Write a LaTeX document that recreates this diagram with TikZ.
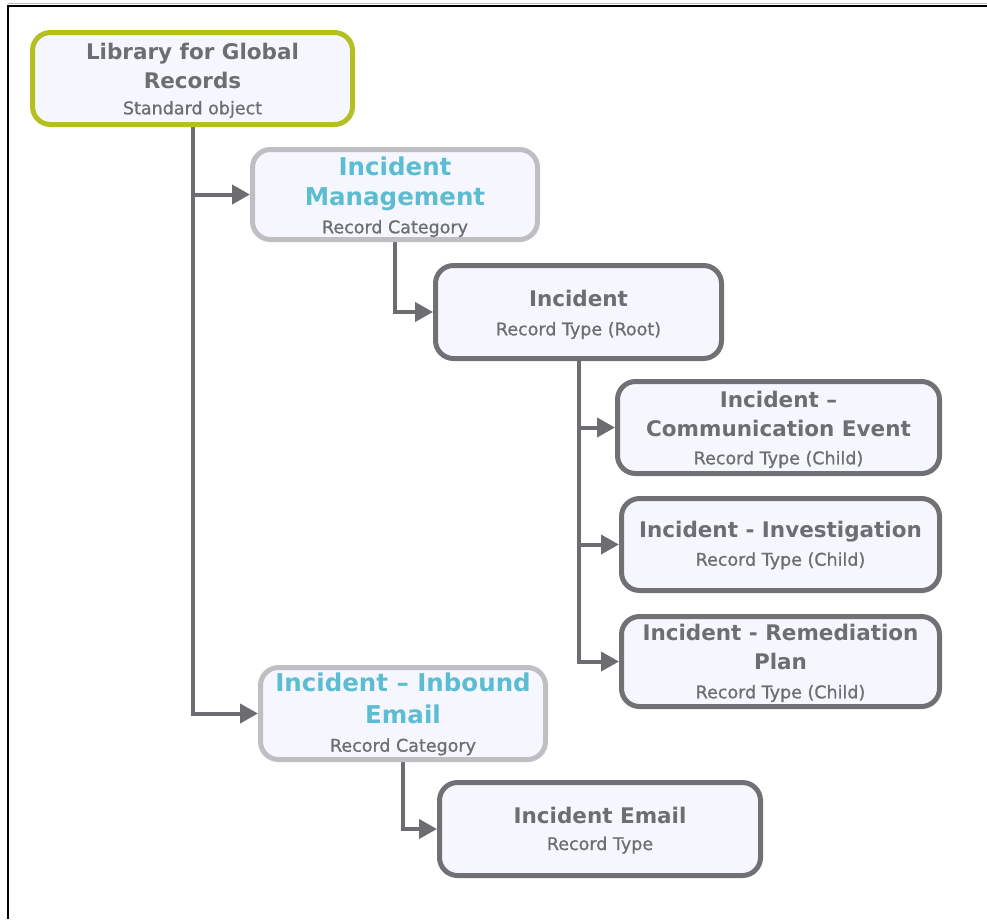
\documentclass[tikz,border=0pt]{standalone}
\usepackage{fontspec}
\setmainfont{DejaVu Sans}
\newfontface\subface{DejaVu Sans}[FakeBold=0.9]
\usetikzlibrary{arrows.meta,backgrounds}

\definecolor{cardfill}{HTML}{F6F7FE}
\definecolor{inkgray}{HTML}{6D6E71}
\definecolor{cattext}{HTML}{5BBCD2}
\definecolor{rootedge}{HTML}{B4BF21}
\definecolor{catedge}{HTML}{BEBEC3}
\definecolor{typeedge}{HTML}{717175}
\definecolor{linkgray}{HTML}{6D6D71}

\begin{document}
\begin{tikzpicture}[x=1pt,y=-1pt,
  card/.style={draw, rounded corners=18pt, line width=5pt, fill=cardfill, inner sep=0pt},
  rootcard/.style={card, draw=rootedge},
  catcard/.style={card, draw=catedge},
  typecard/.style={card, draw=typeedge},
  ttl/.style={anchor=base, inner sep=0pt, text=inkgray, font=\bfseries\fontsize{21.5}{26}\selectfont},
  cat/.style={anchor=base, inner sep=0pt, text=cattext, font=\bfseries\fontsize{24.5}{29}\selectfont},
  sub/.style={anchor=base, inner sep=0pt, text=inkgray, font=\subface\fontsize{17.5}{21}\selectfont},
  link/.style={draw=linkgray, line width=4pt, -{Triangle[length=18pt,width=19pt]}},
  frame/.style={draw=black, line width=2pt}]
\useasboundingbox (0,0) rectangle (987,919);

% page frame
\coordinate (fbl) at (7.5,919);
\coordinate (ftl) at (7.5,5.5);
\coordinate (ftr) at (987,5.5);
\draw[catedge, line width=1pt] (7.5,3.5) -- (987,3.5);
\draw[frame] (fbl) -- (ftl) -- (ftr);

% cards
\node[rootcard, minimum width=320pt, minimum height=92pt] (lib)   at (192.5,78.5) {};
\node[catcard,  minimum width=285pt, minimum height=90pt] (mgmt)  at (395,194.5) {};
\node[typecard, minimum width=286pt, minimum height=93pt] (inc)   at (578.5,312) {};
\node[typecard, minimum width=322pt, minimum height=92pt] (comm)  at (778.5,427.5) {};
\node[typecard, minimum width=318pt, minimum height=92pt] (inv)   at (780.5,544.5) {};
\node[typecard, minimum width=318pt, minimum height=90pt] (rem)   at (780.5,661.5) {};
\node[catcard,  minimum width=285pt, minimum height=92pt] (inb)   at (403,713.5) {};
\node[typecard, minimum width=321pt, minimum height=93pt] (email) at (600,829) {};

% card texts
\node[ttl] (lib-t1) at (192.5,59.3)  {Library for Global};
\node[ttl] (lib-t2) at (192.5,88.3)  {Records};
\node[sub] (lib-s)  at (192.5,114.3) {Standard object};

\node[cat] (mgmt-t1) at (395,175)   {Incident};
\node[cat] (mgmt-t2) at (395,205.7) {Management};
\node[sub] (mgmt-s)  at (395,233.3) {Record Category};

\node[ttl] (inc-t) at (578.5,306)   {Incident};
\node[sub] (inc-s) at (578.5,335.3) {Record Type (Root)};

\node[ttl] (comm-t1) at (778.5,407.7) {Incident –};
\node[ttl] (comm-t2) at (778.5,436)   {Communication Event};
\node[sub] (comm-s)  at (778.5,464.3) {Record Type (Child)};

\node[ttl] (inv-t) at (780.5,537.7) {Incident - Investigation};
\node[sub] (inv-s) at (780.5,565.7) {Record Type (Child)};

\node[ttl] (rem-t1) at (780.5,640.7) {Incident - Remediation};
\node[ttl] (rem-t2) at (780.5,669.3) {Plan};
\node[sub] (rem-s)  at (780.5,698.3) {Record Type (Child)};

\node[cat] (inb-t1) at (403,691.7) {Incident – Inbound};
\node[cat] (inb-t2) at (403,723.3) {Email};
\node[sub] (inb-s)  at (403,751.7) {Record Category};

\node[ttl] (email-t) at (600,823.3) {Incident Email};
\node[sub] (email-s) at (600,850)   {Record Type};

% connectors, kept behind the cards
\begin{scope}[on background layer]
  \draw[link] (lib.south) |- (inb.west);
  \draw[link] (lib.south |- mgmt.west) -- (mgmt.west);
  \draw[link] (mgmt.south) |- (inc.west);
  \draw[link] (inc.south) |- (rem.west);
  \draw[link] (inc.south |- comm.west) -- (comm.west);
  \draw[link] (inc.south |- inv.west) -- (inv.west);
  \draw[link] (inb.south) |- (email.west);
\end{scope}
\end{tikzpicture}
\end{document}
